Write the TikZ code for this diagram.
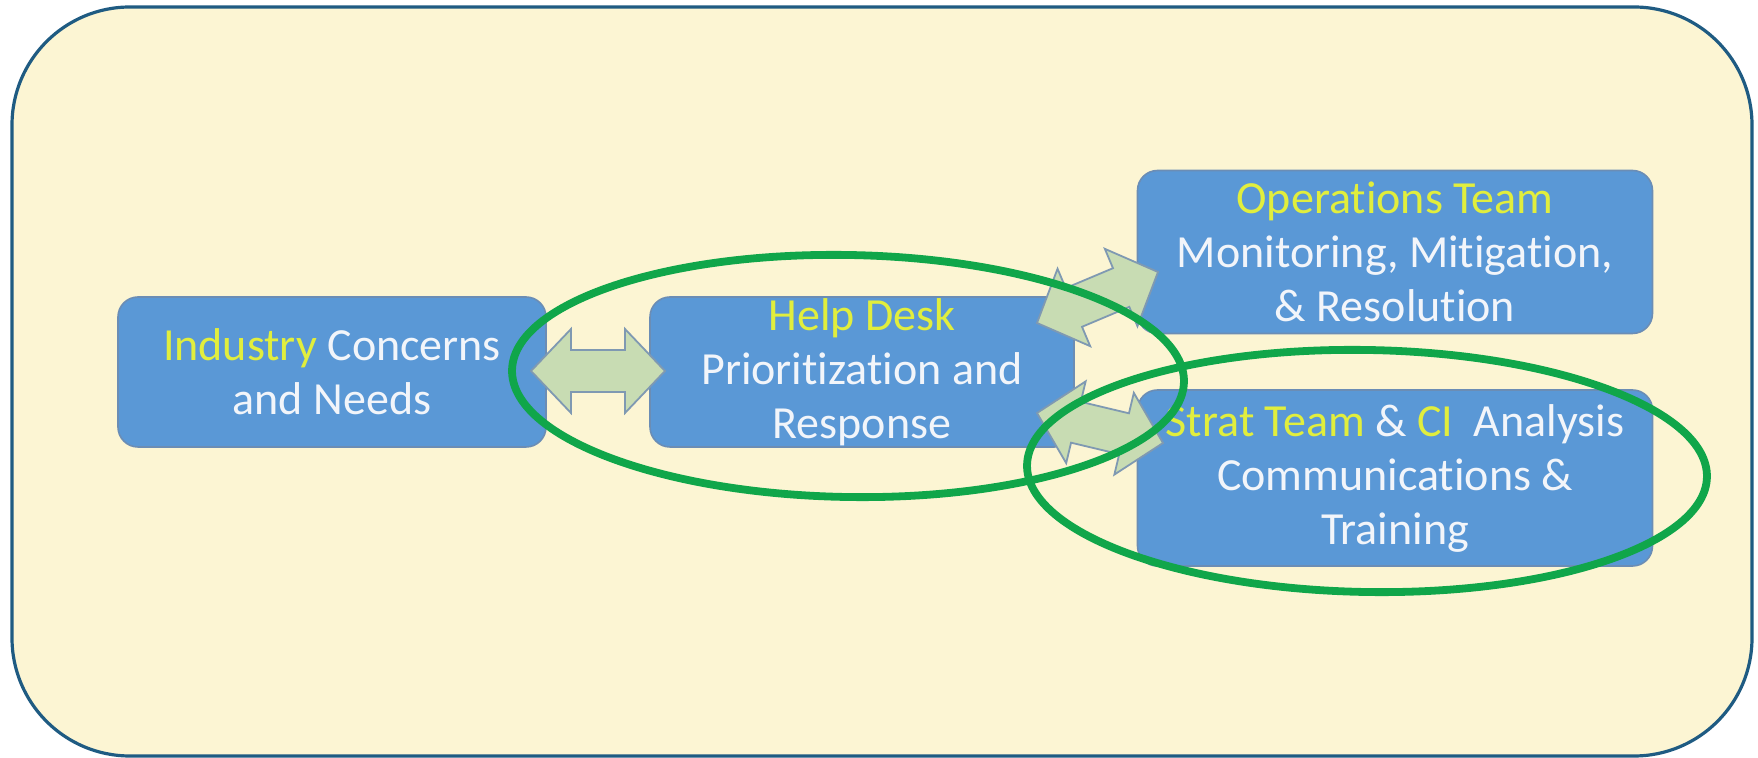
\documentclass[tikz,border=0pt]{standalone}
\usepackage{fontspec}
\setmainfont{Carlito}[Ligatures=NoCommon]
\usetikzlibrary{calc}
\definecolor{bgc}{HTML}{FCF5D3}
\definecolor{framec}{HTML}{1F5B82}
\definecolor{boxc}{HTML}{5A98D6}
\definecolor{boxline}{HTML}{6B8DB5}
\definecolor{arrfill}{HTML}{C8DCB3}
\definecolor{arrline}{HTML}{7F99B2}
\definecolor{ylw}{HTML}{E1EE3D}
\definecolor{wht}{HTML}{F2F5FA}
\definecolor{grn}{HTML}{10A64A}
\newcommand{\hl}[1]{\textcolor{ylw}{#1}}
\newcommand{\dblarr}[2]{%
  \coordinate (p1) at ($(#1)!20pt!(#2)$);
  \coordinate (p2) at ($(#2)!20pt!(#1)$);
  \filldraw[arrowsty] (#1) -- ($(p1)!21pt!90:(#2)$) -- ($(p1)!10.5pt!90:(#2)$)
    -- ($(p2)!10.5pt!-90:(#1)$) -- ($(p2)!21pt!-90:(#1)$) -- (#2)
    -- ($(p2)!21pt!90:(#1)$) -- ($(p2)!10.5pt!90:(#1)$)
    -- ($(p1)!10.5pt!-90:(#2)$) -- ($(p1)!21pt!-90:(#2)$) -- cycle;}
\begin{document}
\begin{tikzpicture}[x=0.5pt,y=-0.5pt,
  boxsty/.style={draw=boxline, line width=0.8pt, fill=boxc, rounded corners=10pt,
     text=wht, align=center, inner sep=0pt,
     font=\fontsize{23pt}{27pt}\selectfont},
  arrowsty/.style={draw=arrline, line width=0.9pt, fill=arrfill, line join=miter},
  ringsty/.style={draw=grn, line width=3.9pt}]
\useasboundingbox (0,0) rectangle (1758,758);
\draw[draw=framec, line width=1.6pt, fill=bgc, rounded corners=59pt] (12,7) rectangle (1752,756);

\node[boxsty, minimum width=214pt, minimum height=75pt] (ind) at (332,372)
  {\hl{Industry} Concerns\\and Needs};
\node[boxsty, minimum width=212pt, minimum height=75pt] (help) at (862,372)
  {\hl{Help Desk}\\Prioritization and\\Response};
\node[boxsty, minimum width=257.5pt, minimum height=81.5pt] (ops) at (1395,252)
  {\hl{Operations Team}\\Monitoring, Mitigation,\\\& Resolution};
\node[boxsty, minimum width=257.5pt, minimum height=88pt] (strat) at (1395,478)
  {\hl{Strat Team} \& \hl{CI}\ \ Analysis\\Communications \&\\Training};

\coordinate (a1) at (531,371);
\coordinate (b1) at (665,371);
\coordinate (a2) at (1037,323);
\coordinate (b2) at (1158,272);
\coordinate (a3) at (1037,413);
\coordinate (b3) at (1163,443);
\dblarr{a1}{b1}
\dblarr{a2}{b2}
\dblarr{a3}{b3}

\draw[ringsty, rotate around={-1:(848,376)}] (848,376) ellipse (168pt and 60.5pt);
\draw[ringsty, rotate around={-1:(1367,471)}] (1367,471) ellipse (170pt and 60.5pt);
\end{tikzpicture}
\end{document}
